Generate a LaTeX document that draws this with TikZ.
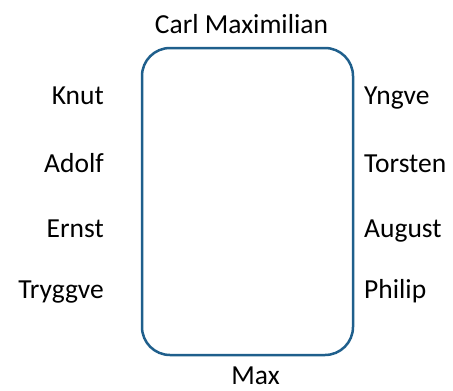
\documentclass[tikz,border=0pt]{standalone}
\usepackage{fontspec}
\setmainfont{Carlito}
\definecolor{frameblue}{RGB}{31,95,140}

\begin{document}
\begin{tikzpicture}[x=1pt,y=-1pt]
\tikzset{person/.style={font=\fontsize{27.5}{32}\selectfont,inner sep=0pt}}
\useasboundingbox (0,0) rectangle (453,391);
\node[draw=frameblue,line width=2.5pt,rounded corners=28pt,minimum width=211pt,minimum height=307pt] (box) at (247.5,201.5) {};
\node[person,anchor=base] (top) at (241.5,33) {Carl Maximilian};
\node[person,anchor=base] (bottom) at (255.5,384) {Max};
\node[person,anchor=base east] (l1) at (104,104) {Knut};
\node[person,anchor=base east] (l2) at (104,172) {Adolf};
\node[person,anchor=base east] (l3) at (104,237) {Ernst};
\node[person,anchor=base east] (l4) at (104,298) {Tryggve};
\node[person,anchor=base west] (r1) at (364,104) {Yngve};
\node[person,anchor=base west] (r2) at (364,172) {Torsten};
\node[person,anchor=base west] (r3) at (364,237) {August};
\node[person,anchor=base west] (r4) at (364,298) {Philip};
\end{tikzpicture}
\end{document}
